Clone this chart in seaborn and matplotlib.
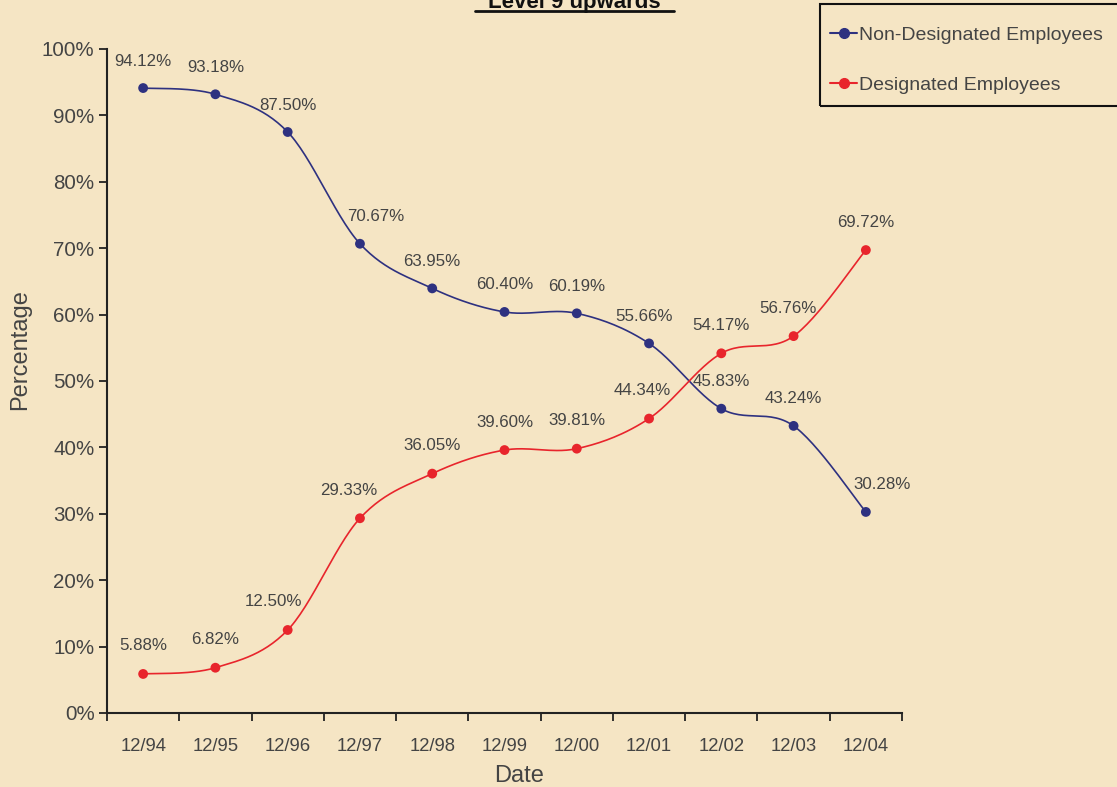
import numpy as np
import pandas as pd
import matplotlib.pyplot as plt
import seaborn as sns
from matplotlib.lines import Line2D
from matplotlib.patches import Rectangle

dates = ["12/94", "12/95", "12/96", "12/97", "12/98", "12/99",
         "12/00", "12/01", "12/02", "12/03", "12/04"]
non_designated = [94.12, 93.18, 87.50, 70.67, 63.95, 60.40,
                  60.19, 55.66, 45.83, 43.24, 30.28]
designated = [5.88, 6.82, 12.50, 29.33, 36.05, 39.60,
              39.81, 44.34, 54.17, 56.76, 69.72]

bg = "#F5E5C4"
navy = "#2E3180"
red = "#E8252C"
txt = "#444444"

sns.set_theme(style="ticks")
plt.rcParams["font.family"] = ["Liberation Sans", "DejaVu Sans"]

df = pd.DataFrame({
    "x": list(range(len(dates))) * 2,
    "pct": non_designated + designated,
    "series": ["Non-Designated Employees"] * len(dates) + ["Designated Employees"] * len(dates),
})
palette = {"Non-Designated Employees": navy, "Designated Employees": red}


def smooth(xs, ys, n=30):
    # Catmull-Rom style smoothing, like a spreadsheet "smoothed line"
    xs = np.asarray(xs, float)
    ys = np.asarray(ys, float)
    px = np.concatenate([[xs[0]], xs, [xs[-1]]])
    py = np.concatenate([[ys[0]], ys, [ys[-1]]])
    ox, oy = [], []
    t = np.linspace(0, 1, n)
    for i in range(1, len(px) - 2):
        p0, p1, p2, p3 = [np.array([px[j], py[j]]) for j in (i - 1, i, i + 1, i + 2)]
        c1 = p1 + (p2 - p0) / 6
        c2 = p2 - (p3 - p1) / 6
        b = ((1 - t) ** 3)[:, None] * p1 + (3 * (1 - t) ** 2 * t)[:, None] * c1 \
            + (3 * (1 - t) * t ** 2)[:, None] * c2 + (t ** 3)[:, None] * p2
        ox.extend(b[:, 0])
        oy.extend(b[:, 1])
    return ox, oy


fig = plt.figure(figsize=(11.17, 7.87), dpi=100, facecolor=bg)
ax = fig.add_axes([107 / 1117, 74 / 787, 795 / 1117, 664 / 787])
ax.set_facecolor(bg)

for name, g in df.groupby("series", sort=False):
    sx, sy = smooth(g["x"], g["pct"])
    ax.plot(sx, sy, color=palette[name], lw=1.2, zorder=2)
sns.scatterplot(data=df, x="x", y="pct", hue="series", palette=palette,
                s=50, edgecolor="none", legend=False, ax=ax, zorder=3)

# label nudges in pixels (x) for crowded spots
nudge_nd = {3: 16, 7: -5, 10: 16}
nudge_d = {2: -14, 3: -11, 7: -7, 9: -6}
for i, v in enumerate(non_designated):
    ax.annotate(f"{v:.2f}%", (i, v), xytext=(nudge_nd.get(i, 0), 27),
                textcoords="offset pixels", ha="center", va="center",
                fontsize=12.2, color=txt)
for i, v in enumerate(designated):
    ax.annotate(f"{v:.2f}%", (i, v), xytext=(nudge_d.get(i, 0), 28),
                textcoords="offset pixels", ha="center", va="center",
                fontsize=12.2, color=txt)

ax.set_xlim(-0.5, len(dates) - 0.5)
ax.set_ylim(0, 100)
ax.set_yticks(range(0, 101, 10))
ax.set_yticklabels([f"{v}%" for v in range(0, 101, 10)])
ax.set_xticks(range(len(dates)))
ax.set_xticklabels(dates)
ax.set_xticks(np.arange(-0.5, len(dates), 1), minor=True)
ax.tick_params(axis="x", which="major", length=0, pad=18, labelsize=13.3, labelcolor=txt)
ax.tick_params(axis="x", which="minor", length=6, width=1.3, color="#222222", direction="out")
ax.tick_params(axis="y", length=6, width=1.3, color="#222222", labelsize=14.8, labelcolor=txt, pad=3)
for s in ("top", "right"):
    ax.spines[s].set_visible(False)
for s in ("left", "bottom"):
    ax.spines[s].set_linewidth(1.5)
    ax.spines[s].set_color("#222222")

ax.set_xlabel("Date", fontsize=17, color=txt)
ax.set_ylabel("Percentage", fontsize=17, color=txt)
ax.xaxis.set_label_coords(0.518, -0.078)
ax.yaxis.set_label_coords(-0.095, 0.547)

fig.text(574 / 1117, 1 - 8 / 787, "Level 9 upwards", ha="center", va="baseline",
         fontsize=16, fontweight="bold", color="#111111")
fig.add_artist(Line2D([475 / 1117, 674 / 1117], [1 - 11 / 787, 1 - 11 / 787],
                      color="#111111", lw=2, transform=fig.transFigure))

# legend box drawn separately so entry spacing can match
fig.add_artist(Rectangle((820 / 1117, 1 - 106 / 787), 0.3, 102 / 787,
                         transform=fig.transFigure, fill=False,
                         edgecolor="#111111", lw=1.5))
handles = [Line2D([], [], color=navy, lw=1.5, marker="o", markersize=7),
           Line2D([], [], color=red, lw=1.5, marker="o", markersize=7)]
leg = fig.legend(handles, ["Non-Designated Employees", "Designated Employees"],
                 loc="upper left", bbox_to_anchor=(830 / 1117, 1 - 26 / 787),
                 frameon=False, fontsize=14, handlelength=1.4, handletextpad=0.1,
                 labelspacing=1.67, borderpad=0, borderaxespad=0)
for t in leg.get_texts():
    t.set_color(txt)

fig.savefig("out.png", dpi=100, facecolor=bg)
